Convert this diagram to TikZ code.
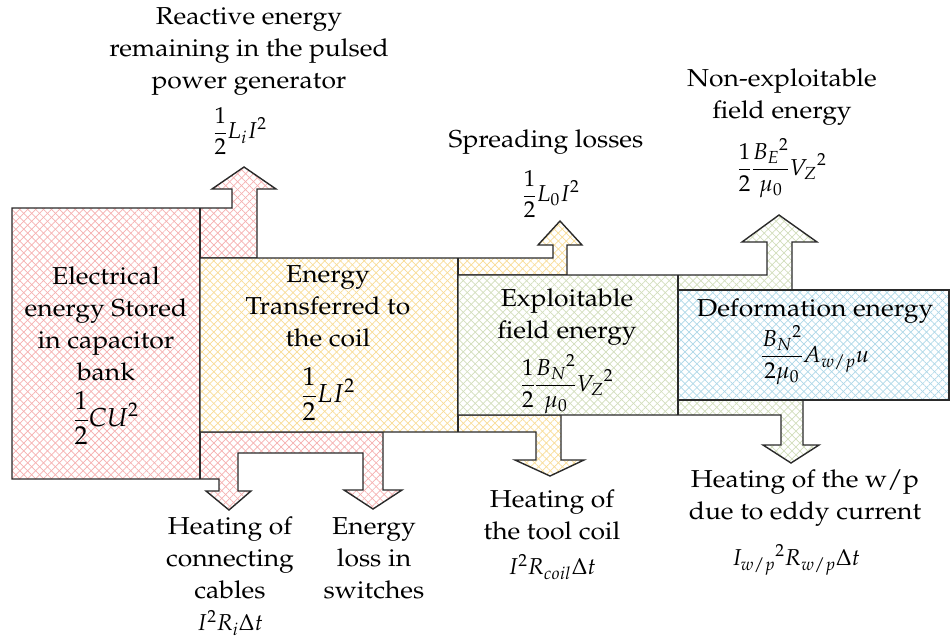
\documentclass[tikz,border=0pt]{standalone}
\usepackage[T1]{fontenc}
\usepackage{mathpazo}
\usepackage{graphicx}
\usetikzlibrary{patterns.meta}
\definecolor{hred}{HTML}{F6B0B0}
\definecolor{hyel}{HTML}{F9DC95}
\definecolor{hgrn}{HTML}{D2DEBC}
\definecolor{hblu}{HTML}{AED8E8}
\definecolor{edge}{HTML}{2A2A2A}
\newcommand{\widelines}[1]{\scalebox{1.08}[1]{\begin{tabular}{@{}c@{}}#1\end{tabular}}}
\tikzset{
 flow/.style={draw=edge, line width=1.4pt, line join=miter,
   preaction={fill=white},
   preaction={pattern={Lines[angle=45,distance=5.6pt,line width=0.7pt]}, pattern color=#1},
   preaction={pattern={Lines[angle=-45,distance=5.6pt,line width=0.7pt]}, pattern color=#1}},
 divider/.style={draw=edge, line width=1.4pt},
 lbl/.style={align=center, font=\fontsize{24.5}{32}\selectfont, inner sep=0pt},
 eq/.style={font=\fontsize{23}{28}\selectfont, inner sep=0pt},
 bigeq/.style={font=\fontsize{26}{30}\selectfont, inner sep=0pt},
}
\begin{document}
\begin{tikzpicture}[x=1pt,y=-1pt]
\useasboundingbox (0,0) rectangle (950,641);
% red flow
\draw[flow=hred] (12,208) -- (232,208) -- (232,189) -- (212,189) -- (244,167) -- (276,189) -- (257,189) -- (257,258)
  -- (200,258) -- (200,432) -- (383,432) -- (383,490) -- (402,490) -- (373,509) -- (344,490) -- (363,490) -- (363,453)
  -- (238,453) -- (238,491) -- (251,491) -- (229,510) -- (206,491) -- (219,491) -- (219,479) -- (12,479) -- cycle;
\draw[divider] (200,208) -- (200,479);
% yellow flow
\draw[flow=hyel] (200,258) -- (553,258) -- (553,245) -- (538,245) -- (560,221) -- (582,245) -- (567,245) -- (567,275)
  -- (458,275) -- (458,415) -- (561,415) -- (561,460) -- (584,460) -- (550,476) -- (515,460) -- (536,460) -- (536,432)
  -- (200,432) -- cycle;
\draw[divider] (458,258) -- (458,432);
% green flow
\draw[flow=hgrn] (458,275) -- (767,275) -- (767,242) -- (742,242) -- (779,215) -- (817,242) -- (792,242) -- (792,290)
  -- (678,290) -- (678,400) -- (803,400) -- (803,445) -- (819,445) -- (791,463) -- (763,445) -- (781,445) -- (781,415)
  -- (458,415) -- cycle;
\draw[divider] (678,275) -- (678,415);
% blue box
\draw[flow=hblu] (678,290) rectangle (949,400);

% box texts
\node[lbl] (t1) at (106,326) {\widelines{Electrical\\energy Stored\\in capacitor\\bank}};
\node[bigeq] (f1) at (106,418) {$\displaystyle\frac{1}{2}CU^2$};
\node[lbl] (t2) at (328,308) {\widelines{Energy\\Transferred to\\the coil}};
\node[bigeq] (f2) at (328,394) {$\displaystyle\frac{1}{2}LI^2$};
\node[lbl] (t3) at (567,316) {\widelines{Exploitable\\field energy}};
\node[eq] (f3) at (567,384) {$\displaystyle\frac{1}{2}\frac{{B_N}^2}{\mu_0}{V_Z}^2$};
\node[lbl] (t4) at (815,310) {\widelines{Deformation energy}};
\node[eq] (f4) at (815,355) {$\displaystyle\frac{{B_N}^2}{2\mu_0}A_{w/p}u$};

% outgoing labels
\node[lbl] (r1) at (249,50) {\widelines{Reactive energy\\remaining in the pulsed\\power generator}};
\node[eq] (rf1) at (240,131) {$\displaystyle\frac{1}{2}L_iI^2$};
\node[lbl] (r2) at (546,141) {\widelines{Spreading losses}};
\node[eq] (rf2) at (551,194) {$\displaystyle\frac{1}{2}L_0I^2$};
\node[lbl] (r3) at (782,96) {\widelines{Non-exploitable\\field energy}};
\node[eq] (rf3) at (782,168) {$\displaystyle\frac{1}{2}\frac{{B_E}^2}{\mu_0}{V_Z}^2$};
\node[lbl] (d1) at (230,560) {\widelines{Heating of\\connecting\\cables}};
\node[eq] (df1) at (230,623) {$I^2R_i\Delta t$};
\node[lbl] (d2) at (374,560) {\widelines{Energy\\loss in\\switches}};
\node[lbl] (d3) at (552,517) {\widelines{Heating of\\the tool coil}};
\node[eq] (df3) at (552,567) {$I^2R_{coil}\Delta t$};
\node[lbl] (d4) at (805,497) {\widelines{Heating of the w/p\\due to eddy current}};
\node[eq] (df4) at (796,560) {${I_{w/p}}^2R_{w/p}\Delta t$};
\end{tikzpicture}
\end{document}
